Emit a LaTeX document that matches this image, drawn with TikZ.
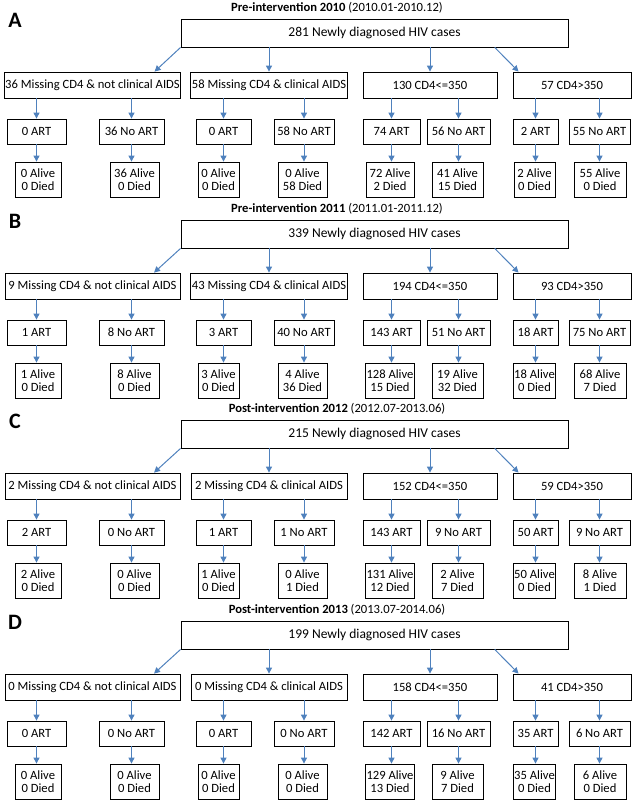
\documentclass[tikz,border=0pt]{standalone}
\usepackage{fontspec}
\setmainfont{Carlito}
\usetikzlibrary{arrows.meta,calc}
\definecolor{arrowblue}{HTML}{4F81BD}

\tikzset{
  box/.style = {draw, line width=0.8pt, inner sep=1pt, font=\fontsize{12.6}{13}\selectfont},
  groupbox/.style = {box, minimum height=26pt},
  artbox/.style = {box, minimum height=25pt},
  outcomebox/.style = {box, minimum height=35pt, align=center, font=\fontsize{12.6}{13.5}\selectfont},
  arr/.style = {arrowblue, line width=1pt, -{Triangle[width=6pt,length=6pt]}}
}

% geometry shared by the four panels
\def\catx{{92.5,269,430,572}}
\def\catw{{175,156,134,118}}
\def\trtx{{36.5,131.5,223.5,304,391.5,458.5,535.5,599.5}}
\def\trtw{{59,65,55,60,57,63,45,61}}
\def\outx{{38,134.5,218.5,302.5,390,457.5,534.5,600}}
\def\outw{{46,49,41,49,48,51,41,52}}

% #1 offset, #2 letter, #3 title, #4 period, #5 cases, #6 groups, #7 treatment/alive/died
\newcommand\drawpanel[7]{%
  \node[font=\fontsize{22}{22}\bfseries\selectfont] (letter#2) at (15, #1+20) {#2};
  \node[font=\fontsize{12.6}{13}\selectfont] (title#2) at (337, #1+8) {\textbf{#3} (#4)};
  \node[box, minimum width=387pt, minimum height=28pt, font=\fontsize{13.5}{14}\selectfont]
    (root#2) at (374.5, #1+33) {#5 Newly diagnosed HIV cases};
  \foreach \t [count=\i] in {#6} {
    \pgfmathsetmacro\x{\catx[\i-1]}
    \pgfmathsetmacro\w{\catw[\i-1]}
    \node[groupbox, minimum width=\w pt] (cat#2\i) at (\x, #1+85) {\t};
  }
  \draw[arr] (root#2.south west) -- ($(cat#21.north)!0.7!(cat#21.north east)$);
  \draw[arr] (root#2.south -| cat#22.north) -- (cat#22.north);
  \draw[arr] (root#2.south -| cat#23.north) -- (cat#23.north);
  \draw[arr] ($(root#2.south)!0.62!(root#2.south east)$) -- ($(cat#24.north west)!0.1!(cat#24.north)$);
  \foreach \t/\a/\d [count=\i] in {#7} {
    \pgfmathsetmacro\x{\trtx[\i-1]}
    \pgfmathsetmacro\w{\trtw[\i-1]}
    \pgfmathsetmacro\ox{\outx[\i-1]}
    \pgfmathsetmacro\ow{\outw[\i-1]}
    \pgfmathtruncatemacro\c{int((\i+1)/2)}
    \node[artbox, minimum width=\w pt] (trt#2\i) at (\x, #1+131.5) {\t};
    \node[outcomebox, minimum width=\ow pt] (res#2\i) at (\ox, #1+179.5) {\a{} Alive\\\d{} Died};
    \draw[arr] (cat#2\c.south -| trt#2\i.north) -- (trt#2\i.north);
    \draw[arr] (trt#2\i.south) -- (trt#2\i.south |- res#2\i.north);
  }
}

\begin{document}
\begin{tikzpicture}[x=1pt, y=-1pt]
  \useasboundingbox (0,0) rectangle (633,800);

  \drawpanel{0}{A}{Pre-intervention 2010}{2010.01-2010.12}{281}
    {{36 Missing CD4 \& not clinical AIDS},{58 Missing CD4 \& clinical AIDS},{130 CD4<=350},{57 CD4>350}}
    {0 ART/0/0, 36 No ART/36/0, 0 ART/0/0, 58 No ART/0/58, 74 ART/72/2, 56 No ART/41/15, 2 ART/2/0, 55 No ART/55/0}

  \drawpanel{201}{B}{Pre-intervention 2011}{2011.01-2011.12}{339}
    {{9 Missing CD4 \& not clinical AIDS},{43 Missing CD4 \& clinical AIDS},{194 CD4<=350},{93 CD4>350}}
    {1 ART/1/0, 8 No ART/8/0, 3 ART/3/0, 40 No ART/4/36, 143 ART/128/15, 51 No ART/19/32, 18 ART/18/0, 75 No ART/68/7}

  \drawpanel{401}{C}{Post-intervention 2012}{2012.07-2013.06}{215}
    {{2 Missing CD4 \& not clinical AIDS},{2 Missing CD4 \& clinical AIDS},{152 CD4<=350},{59 CD4>350}}
    {2 ART/2/0, 0 No ART/0/0, 1 ART/1/0, 1 No ART/0/1, 143 ART/131/12, 9 No ART/2/7, 50 ART/50/0, 9 No ART/8/1}

  \drawpanel{602}{D}{Post-intervention 2013}{2013.07-2014.06}{199}
    {{0 Missing CD4 \& not clinical AIDS},{0 Missing CD4 \& clinical AIDS},{158 CD4<=350},{41 CD4>350}}
    {0 ART/0/0, 0 No ART/0/0, 0 ART/0/0, 0 No ART/0/0, 142 ART/129/13, 16 No ART/9/7, 35 ART/35/0, 6 No ART/6/0}
\end{tikzpicture}
\end{document}
